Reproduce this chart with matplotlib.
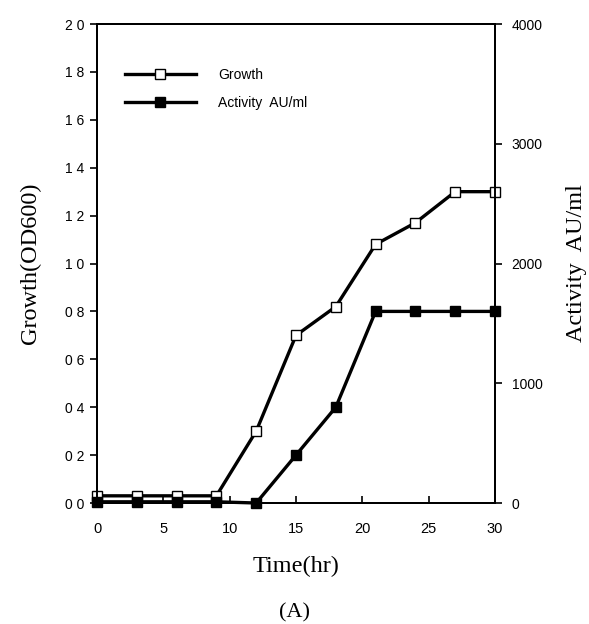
import numpy as np
import matplotlib.pyplot as plt

# data
time_hr = [0, 3, 6, 9, 12, 15, 18, 21, 24, 27, 30]
growth = [0.03, 0.03, 0.03, 0.03, 0.30, 0.70, 0.82, 1.08, 1.17, 1.30, 1.30]
activity = [10, 10, 10, 10, 0, 400, 800, 1600, 1600, 1600, 1600]

growth_ticks = [0.0, 0.2, 0.4, 0.6, 0.8, 1.0, 1.2, 1.4, 1.6, 1.8, 2.0]
growth_tick_labels = ['0 0', '0 2', '0 4', '0 6', '0 8', '1 0', '1 2', '1 4', '1 6', '1 8', '2 0']
activity_ticks = [0, 1000, 2000, 3000, 4000]
time_ticks = [0, 5, 10, 15, 20, 25, 30]

sans = 'Liberation Sans'
serif = 'Liberation Serif'

fig = plt.figure(figsize=(5.89, 6.24), dpi=100)
ax = fig.add_axes([0.1647, 0.1939, 0.6757, 0.7676])
ax2 = ax.twinx()

l1, = ax.plot(time_hr, growth, color='k', lw=2.4, marker='s', ms=6.5,
              mfc='white', mec='k', mew=1.0, label='Growth', zorder=3,
              clip_on=False)
l2, = ax2.plot(time_hr, activity, color='k', lw=2.4, marker='s', ms=6.5,
               mfc='k', mec='k', label='Activity  AU/ml', zorder=3,
               clip_on=False)

ax.set_xlim(0, 30)
ax.set_ylim(0, 2.0)
ax2.set_ylim(0, 4000)

ax.set_xticks(time_ticks)
ax.set_xticklabels([str(t) for t in time_ticks], fontfamily=sans, fontsize=10.5)
ax.set_yticks(growth_ticks)
ax.set_yticklabels(growth_tick_labels, fontfamily=sans, fontsize=10)
ax2.set_yticks(activity_ticks)
ax2.set_yticklabels([str(a) for a in activity_ticks], fontfamily=sans, fontsize=10)

ax.tick_params(axis='x', direction='in', length=5, width=1.2, pad=14)
ax.tick_params(axis='y', direction='out', length=5, width=1.2, pad=4)
ax2.tick_params(axis='y', direction='out', length=5, width=1.2, pad=7)

for a in (ax, ax2):
    for s in a.spines.values():
        s.set_linewidth(1.4)

ax.set_xlabel('Time(hr)', fontfamily=serif, fontsize=17.5, labelpad=14)
ax.set_ylabel('Growth(OD600)', fontfamily=serif, fontsize=17.5, labelpad=17)
ax2.set_ylabel('Activity  AU/ml', fontfamily=serif, fontsize=17.5, labelpad=17)

leg = ax.legend(handles=[l1, l2], loc='upper left', bbox_to_anchor=(0.04, 0.935),
                frameon=False, handlelength=5.05, handletextpad=1.6,
                labelspacing=1.05, prop={'family': sans, 'size': 10})

fig.text(0.5, 0.003, '(A)', fontfamily=serif, fontsize=16, ha='center', va='bottom')

fig.savefig('out.png', dpi=100)
